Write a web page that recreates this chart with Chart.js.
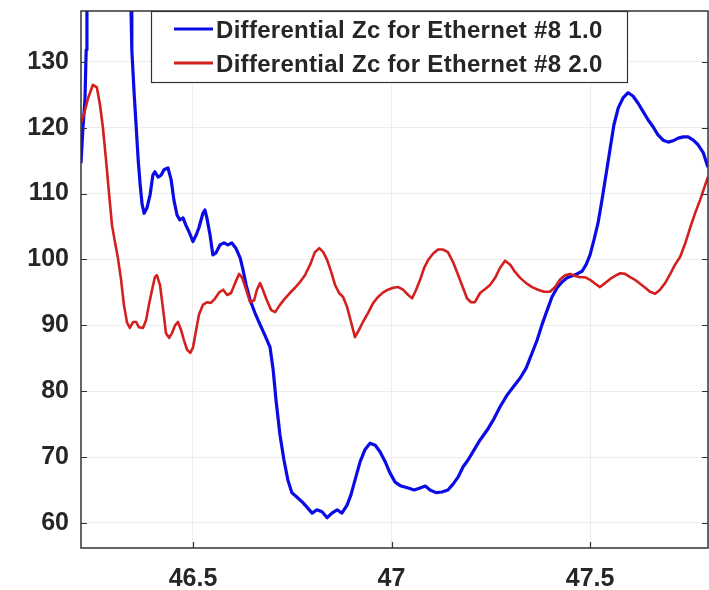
<!DOCTYPE html>
<html>
<head>
<meta charset="utf-8">
<script src="https://cdn.jsdelivr.net/npm/chart.js@4"></script>
<style>
html,body{margin:0;padding:0;background:#fff;}
#wrap{width:709px;height:590px;}
</style>
</head>
<body>
<div id="wrap"><canvas id="c" width="709" height="590"></canvas></div>
<script>
// ---- data ----
const seriesLabels = ["Differential Zc for Ethernet #8 1.0", "Differential Zc for Ethernet #8 2.0"];
const xTicks = [46.5, 47, 47.5];
const yTicks = [60, 70, 80, 90, 100, 110, 120, 130];

const blueX = [46.218,46.223,46.228,46.231,46.233,46.25,46.33,46.344,46.346,46.352,46.357,46.362,46.367,46.372,46.377,46.384,46.392,46.399,46.404,46.412,46.420,46.427,46.437,46.445,46.452,46.460,46.467,46.475,46.482,46.490,46.500,46.508,46.515,46.525,46.530,46.535,46.543,46.550,46.558,46.568,46.578,46.588,46.598,46.608,46.619,46.626,46.634,46.644,46.656,46.669,46.681,46.694,46.702,46.709,46.719,46.729,46.739,46.749,46.762,46.775,46.787,46.800,46.812,46.825,46.838,46.850,46.863,46.875,46.888,46.898,46.908,46.921,46.933,46.946,46.959,46.971,46.984,46.996,47.009,47.024,47.042,47.057,47.072,47.085,47.097,47.112,47.127,47.142,47.155,47.168,47.180,47.193,47.205,47.223,47.241,47.256,47.273,47.291,47.306,47.324,47.339,47.354,47.367,47.379,47.392,47.404,47.417,47.430,47.442,47.455,47.467,47.480,47.490,47.500,47.510,47.520,47.530,47.540,47.550,47.560,47.571,47.583,47.596,47.608,47.621,47.634,47.646,47.659,47.671,47.684,47.697,47.709,47.722,47.735,47.747,47.760,47.772,47.785,47.797];
const blueY = [114.6,120.1,124.2,131.8,137.7,145,145,137.7,131.8,125.0,120.1,115.1,111.3,108.3,107.0,107.8,109.8,112.8,113.3,112.5,112.8,113.6,113.9,112.1,109.0,106.7,106.0,106.3,105.2,104.2,102.7,103.7,104.8,107.0,107.5,106.3,103.7,100.7,101.0,102.2,102.5,102.2,102.5,101.7,100.2,98.4,96.1,93.8,91.9,90.1,88.5,86.7,83.2,78.7,73.4,69.6,66.5,64.6,63.9,63.2,62.4,61.5,62.0,61.7,60.8,61.5,62.0,61.5,62.7,64.3,66.5,69.3,71.1,72.1,71.8,70.8,69.3,67.6,66.2,65.6,65.3,65.0,65.3,65.6,65.0,64.6,64.7,65.0,65.9,67.0,68.5,69.6,70.8,72.6,74.1,75.6,77.6,79.4,80.6,82.0,83.5,85.8,87.8,90.1,92.3,94.3,95.7,96.6,97.2,97.5,97.8,98.2,99.2,100.7,103.0,105.5,109.0,112.8,116.6,120.4,123.0,124.5,125.3,124.8,123.7,122.4,121.2,120.1,118.9,118.1,117.8,118.0,118.4,118.6,118.6,118.1,117.4,116.2,114.0];

const redX = [46.218,46.226,46.236,46.248,46.258,46.266,46.273,46.281,46.289,46.296,46.304,46.311,46.319,46.326,46.334,46.341,46.349,46.357,46.364,46.374,46.382,46.389,46.397,46.404,46.409,46.417,46.425,46.432,46.440,46.447,46.455,46.462,46.470,46.477,46.485,46.493,46.500,46.508,46.515,46.525,46.535,46.545,46.556,46.566,46.576,46.586,46.596,46.606,46.616,46.624,46.634,46.644,46.654,46.661,46.669,46.676,46.686,46.697,46.707,46.719,46.732,46.744,46.757,46.770,46.782,46.795,46.807,46.818,46.828,46.838,46.848,46.858,46.868,46.878,46.888,46.898,46.908,46.918,46.928,46.941,46.954,46.966,46.979,46.991,47.004,47.017,47.029,47.042,47.052,47.062,47.072,47.082,47.092,47.105,47.117,47.130,47.142,47.155,47.168,47.180,47.190,47.200,47.210,47.223,47.236,47.248,47.261,47.273,47.286,47.299,47.311,47.324,47.339,47.354,47.369,47.384,47.399,47.412,47.425,47.437,47.450,47.462,47.475,47.487,47.500,47.513,47.525,47.538,47.550,47.563,47.576,47.588,47.601,47.613,47.626,47.639,47.651,47.664,47.676,47.689,47.702,47.714,47.727,47.740,47.752,47.765,47.777,47.790,47.797];
const redY = [120.7,122.2,124.5,126.5,126.1,123.4,120.1,115.1,109.8,105.2,102.5,100.2,96.9,93.1,90.4,89.6,90.5,90.5,89.7,89.6,90.8,93.1,95.4,97.3,97.6,96.1,92.3,88.8,88.1,88.8,90.0,90.5,89.3,87.8,86.3,85.8,86.6,89.3,91.6,93.1,93.5,93.4,94.1,95.0,95.4,94.6,94.9,96.4,97.8,97.2,95.4,93.5,93.8,95.4,96.4,95.4,93.8,92.3,92.0,93.1,94.1,94.9,95.7,96.6,97.6,99.2,101.1,101.7,101.1,99.9,98.1,96.1,94.9,94.3,92.8,90.5,88.2,89.3,90.5,91.9,93.4,94.3,95.0,95.4,95.7,95.8,95.4,94.6,94.1,95.4,96.9,98.7,99.9,100.9,101.5,101.5,101.1,99.6,97.6,95.7,94.1,93.5,93.5,94.9,95.5,96.1,97.2,98.7,99.8,99.2,98.1,97.2,96.4,95.8,95.4,95.1,95.1,95.8,97.0,97.6,97.8,97.5,97.3,97.3,96.9,96.3,95.8,96.4,97.0,97.5,97.9,97.8,97.3,96.9,96.3,95.7,95.1,94.8,95.4,96.4,97.8,99.2,100.4,102.5,104.8,107.1,109.0,111.3,112.5];

const xMin = 46.218, xMax = 47.797, yMin = 56.2, yMax = 137.7;

function pts(xs, ys){ return xs.map((x,i)=>({x:x, y:ys[i]})); }

const FONT = '"Liberation Sans", Arial, Helvetica, sans-serif';
const TXT = '#262626';
const BLUE = '#0b0be6';
const RED = '#d41f1f';

const boxPlugin = {
  id: 'boxPlugin',
  afterDraw(chart){
    const ctx = chart.ctx, a = chart.chartArea;
    const xs = chart.scales.x, ys = chart.scales.y;
    ctx.save();
    // axes box
    ctx.strokeStyle = '#333';
    ctx.lineWidth = 1.5;
    ctx.strokeRect(a.left, a.top, a.right - a.left, a.bottom - a.top);
    // inward ticks
    ctx.lineWidth = 1.2;
    const tl = 6;
    ctx.beginPath();
    xTicks.forEach(v=>{
      const px = Math.round(xs.getPixelForValue(v)) + 0.5;
      ctx.moveTo(px, a.bottom); ctx.lineTo(px, a.bottom - tl);
      ctx.moveTo(px, a.top); ctx.lineTo(px, a.top + tl);
    });
    yTicks.forEach(v=>{
      const py = Math.round(ys.getPixelForValue(v)) + 0.5;
      ctx.moveTo(a.left, py); ctx.lineTo(a.left + tl, py);
      ctx.moveTo(a.right, py); ctx.lineTo(a.right - tl, py);
    });
    ctx.stroke();
    // legend box
    const L = 151, T = 11, R = 628, B = 83;
    ctx.fillStyle = '#fff';
    ctx.fillRect(L, T, R - L, B - T);
    ctx.strokeStyle = '#333';
    ctx.lineWidth = 1.2;
    ctx.strokeRect(L + 0.5, T + 0.5, R - L - 1, B - T - 1);
    const rows = [29, 63];
    chart.data.datasets.forEach((ds, i)=>{
      const y = rows[i];
      ctx.strokeStyle = ds.borderColor;
      ctx.lineWidth = 3;
      ctx.beginPath(); ctx.moveTo(174, y); ctx.lineTo(213, y); ctx.stroke();
      ctx.fillStyle = TXT;
      ctx.font = 'bold 24px ' + FONT;
      try { ctx.letterSpacing = '0.3px'; } catch(e) {}
      ctx.textBaseline = 'middle';
      ctx.textAlign = 'left';
      ctx.fillText(ds.label, 216, y + 2);
    });
    ctx.restore();
  }
};

new Chart(document.getElementById('c'), {
  type: 'line',
  data: {
    datasets: [
      { label: seriesLabels[0], data: pts(blueX, blueY), borderColor: BLUE, borderWidth: 3.2, pointRadius: 0, tension: 0, borderJoinStyle: 'round', order: 2 },
      { label: seriesLabels[1], data: pts(redX, redY), borderColor: RED, borderWidth: 2.6, pointRadius: 0, tension: 0, borderJoinStyle: 'round', order: 1 }
    ]
  },
  options: {
    responsive: false,
    animation: false,
    devicePixelRatio: 1,
    layout: { padding: { top: 11, right: 1, left: 0, bottom: 0 } },
    plugins: { legend: { display: false }, tooltip: { enabled: false } },
    scales: {
      x: {
        type: 'linear', min: xMin, max: xMax,
        afterBuildTicks: s => { s.ticks = xTicks.map(v => ({ value: v })); },
        afterFit: s => { s.height = 42; s.paddingLeft = 0; s.paddingRight = 0; },
        grid: { color: '#ededed', lineWidth: 1, drawTicks: false },
        border: { display: false },
        ticks: { color: TXT, font: { family: FONT, size: 25, weight: 'bold' }, padding: 16, maxRotation: 0, callback: v => String(v) }
      },
      y: {
        type: 'linear', min: yMin, max: yMax,
        afterBuildTicks: s => { s.ticks = yTicks.map(v => ({ value: v })); },
        afterFit: s => { s.width = 81; s.paddingTop = 0; s.paddingBottom = 0; },
        grid: { color: '#ededed', lineWidth: 1, drawTicks: false },
        border: { display: false },
        ticks: { color: TXT, font: { family: FONT, size: 25, weight: 'bold' }, padding: 12, callback: v => String(v) }
      }
    }
  },
  plugins: [boxPlugin]
});
</script>
</body>
</html>
